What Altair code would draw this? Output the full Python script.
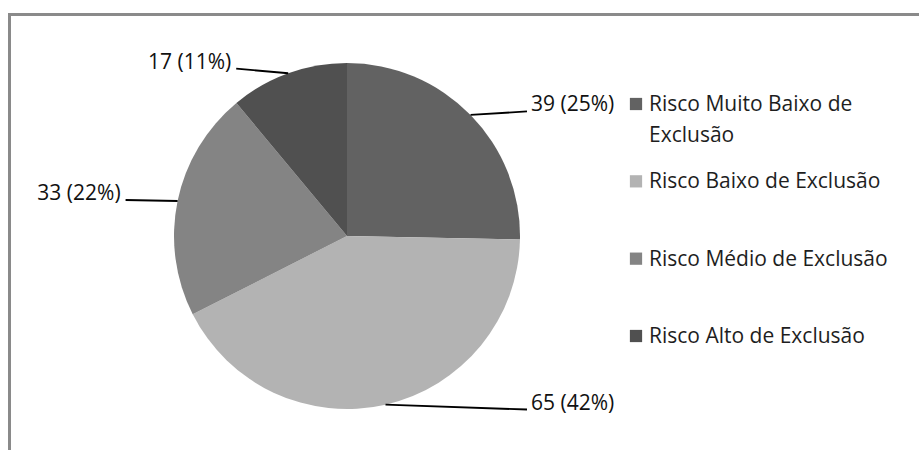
import altair as alt
import pandas as pd

# ---- data ----
categories = [
    "Risco Muito Baixo de Exclusão",
    "Risco Baixo de Exclusão",
    "Risco Médio de Exclusão",
    "Risco Alto de Exclusão",
]
legend_labels = [
    "Risco Muito Baixo de\nExclusão",
    "Risco Baixo de Exclusão",
    "Risco Médio de Exclusão",
    "Risco Alto de Exclusão",
]
values = [39, 65, 33, 17]
percents = [25, 42, 22, 11]
colors = ["#626262", "#b3b3b3", "#848484", "#505050"]

# ---- layout constants ----
W, H = 919, 450
CX, CY, R = 347, 236, 173
FONT = "Open Sans"

df = pd.DataFrame({
    "idx": list(range(len(categories))),
    "cat": categories,
    "legend": legend_labels,
    "value": values,
    "pct": percents,
})

color = alt.Color("cat:N", scale=alt.Scale(domain=categories, range=colors), legend=None)
xs = alt.Scale(domain=[0, W], nice=False, zero=False)
ys = alt.Scale(domain=[0, H], reverse=True, nice=False, zero=False)

base = alt.Chart(df)

frame = alt.Chart(pd.DataFrame({"a": [0]})).mark_rect(
    fill="white", stroke="#8a8a8a", strokeWidth=3
).encode(
    x=alt.value(9.5), x2=alt.value(W + 30), y=alt.value(14.5), y2=alt.value(H + 40)
)

pie = base.mark_arc(radius=R).encode(
    theta=alt.Theta("value:Q", stack=True),
    color=color,
    order=alt.Order("idx:Q", sort="ascending"),
    x=alt.value(CX),
    y=alt.value(CY),
)

geo = (
    base.transform_window(cum="sum(value)", sort=[alt.SortField("idx")], frame=[None, 0])
    .transform_joinaggregate(total="sum(value)")
    .transform_calculate(mid="(datum.cum - datum.value/2)/datum.total*2*PI")
    .transform_calculate(sx=f"{CX} + {R}*sin(datum.mid)")
    .transform_calculate(sy=f"{CY} - {R}*cos(datum.mid)")
    .transform_calculate(side="sin(datum.mid) > 0 ? 'R' : 'L'")
    .transform_calculate(ex=f"datum.side == 'R' ? {CX + R + 7} : datum.sx - 52")
    .transform_calculate(ey="datum.sy - 5*cos(datum.mid)")
    .transform_calculate(label="datum.value + ' (' + datum.pct + '%)'")
)

leader = geo.mark_rule(color="#000000", strokeWidth=1.9).encode(
    x=alt.X("sx:Q", scale=xs, axis=None),
    y=alt.Y("sy:Q", scale=ys, axis=None),
    x2="ex:Q",
    y2="ey:Q",
)

lab_r = geo.transform_filter("datum.side == 'R'").mark_text(
    align="left", baseline="middle", dx=4, dy=-6, font=FONT, fontSize=21, color="#111111"
).encode(
    x=alt.X("ex:Q", scale=xs, axis=None),
    y=alt.Y("ey:Q", scale=ys, axis=None),
    text="label:N",
)

lab_l = geo.transform_filter("datum.side == 'L'").mark_text(
    align="right", baseline="middle", dx=-5, dy=-6, font=FONT, fontSize=21, color="#111111"
).encode(
    x=alt.X("ex:Q", scale=xs, axis=None),
    y=alt.Y("ey:Q", scale=ys, axis=None),
    text="label:N",
)

ly = alt.Scale(domain=categories, range=[104, 336], padding=0)

leg_sym = base.mark_square(size=150, opacity=1).encode(
    x=alt.value(636),
    y=alt.Y("cat:N", scale=ly, axis=None),
    color=color,
)

leg_txt = base.mark_text(
    align="left", baseline="alphabetic", dy=7, lineBreak="\n", lineHeight=31,
    font=FONT, fontSize=21, color="#1e1e1e"
).encode(
    x=alt.value(649),
    y=alt.Y("cat:N", scale=ly, axis=None),
    text="legend:N",
)

chart = (
    alt.layer(frame, pie, leader, lab_r, lab_l, leg_sym, leg_txt)
    .resolve_scale(y="independent", x="independent")
    .properties(width=W, height=H, padding=0, autosize=alt.AutoSizeParams(type="none"), background="white")
    .configure_view(strokeWidth=0)
)

chart.save("out.html", embed_options={"renderer": "svg", "actions": False})
